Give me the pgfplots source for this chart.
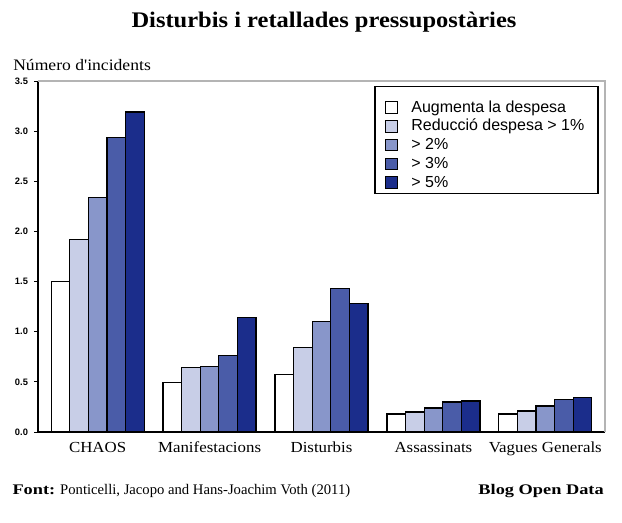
\documentclass[border=0pt]{standalone}
\usepackage{pgfplots}
\pgfplotsset{compat=1.18}
\usepackage{fontspec}
\setmainfont{Liberation Serif}
\newfontfamily\gs{Liberation Serif}[FakeStretch=1.1]
\newfontfamily\gsw{Liberation Serif}[FakeStretch=1.25]
\newfontfamily\arial{Liberation Sans}

\definecolor{cA}{HTML}{FFFFFF}
\definecolor{cB}{HTML}{C8CEE7}
\definecolor{cC}{HTML}{8896CA}
\definecolor{cD}{HTML}{4A5CA8}
\definecolor{cE}{HTML}{1B2D8B}
\definecolor{frame}{HTML}{B4B4B4}

\begin{document}
\begin{tikzpicture}
% page area: 622 x 523 px at 0.75 pt per px
\useasboundingbox[fill=white] (0,0) rectangle (466.5pt,392.25pt);

\node[anchor=base, font=\gs\bfseries\fontsize{16.7}{20}\selectfont] at (243pt,371.25pt)
  {Disturbis i retallades pressupostàries};
\node[anchor=base west, inner sep=0pt, font=\gs\fontsize{12}{14}\selectfont] at (9.75pt,339.4pt)
  {Número d{\char39}incidents};
\node[anchor=base west, inner sep=0pt, font=\fontsize{11}{13}\selectfont] at (9.2pt,21pt)
  {{\gsw\bfseries Font:} Ponticelli, Jacopo and Hans-Joachim Voth (2011)};
\node[anchor=base east, inner sep=0pt, font=\gsw\bfseries\fontsize{11}{13}\selectfont] at (453pt,21pt)
  {Blog Open Data};

\begin{axis}[
  at={(28.5pt,68.25pt)}, anchor=south west,
  scale only axis, width=425.25pt, height=263.25pt,
  ymin=0, ymax=3.5, xmin=-0.533, xmax=4.533,
  axis lines*=left,
  axis line style={black, line width=0.9pt},
  ytick={0,0.5,...,3.5},
  yticklabel style={font=\arial\bfseries\fontsize{7}{8}\selectfont, xshift=-1pt},
  /pgf/number format/assume math mode=true,
  /pgf/number format/.cd, fixed, fixed zerofill, precision=1, /pgfplots/.cd,
  ytick style={black, line width=0.6pt},
  tick align=outside, major tick length=3pt,
  xtick={0,1,2,3,4},
  xticklabels={CHAOS, Manifestacions, Disturbis, Assassinats, Vagues Generals},
  xtick style={draw=none},
  xticklabel style={font=\gs\fontsize{11.5}{14}\selectfont, anchor=base, yshift=-12.5pt},
  ybar=0pt, bar width=13.95pt,
  every axis plot/.append style={draw=black, line width=0.9pt},
  legend cell align=left,
  legend style={at={(0.612,0.950)}, anchor=north west,
    draw=none, fill=none,
    font=\arial\fontsize{12}{14}\selectfont,
    inner sep=0pt, column sep=0pt,
    nodes={inner sep=0pt, text height=10pt, text depth=3pt},
    row sep=1.1pt},
  legend image code/.code={%
    \draw[#1, line width=0.7pt] (0pt,-4.3pt) rectangle (8.8pt,4.3pt);
    \path (18.75pt,0pt);},
  clip=false,
  extra description/.code={
    \draw[frame, line width=0.9pt] (rel axis cs:0,1) -- (rel axis cs:1,1) -- (rel axis cs:1,0);
    \draw[black, line width=0.8pt] (rel axis cs:0.5944,0.9838) rectangle (rel axis cs:0.9877,0.680);
  },
]
\addplot[fill=cA, bar shift=-27.9pt] coordinates {(0,1.50) (1,0.49) (2,0.57) (3,0.18) (4,0.18)};
\addlegendentry{Augmenta la despesa}
\addplot[fill=cB, bar shift=-13.95pt] coordinates {(0,1.92) (1,0.64) (2,0.84) (3,0.20) (4,0.21)};
\addlegendentry{Reducció despesa > 1\%}
\addplot[fill=cC, bar shift=0pt] coordinates {(0,2.34) (1,0.65) (2,1.10) (3,0.24) (4,0.26)};
\addlegendentry{> 2\%}
\addplot[fill=cD, bar shift=13.95pt] coordinates {(0,2.94) (1,0.76) (2,1.43) (3,0.30) (4,0.32)};
\addlegendentry{> 3\%}
\addplot[fill=cE, bar shift=27.9pt] coordinates {(0,3.19) (1,1.14) (2,1.28) (3,0.31) (4,0.34)};
\addlegendentry{> 5\%}
\end{axis}
\end{tikzpicture}
\end{document}
